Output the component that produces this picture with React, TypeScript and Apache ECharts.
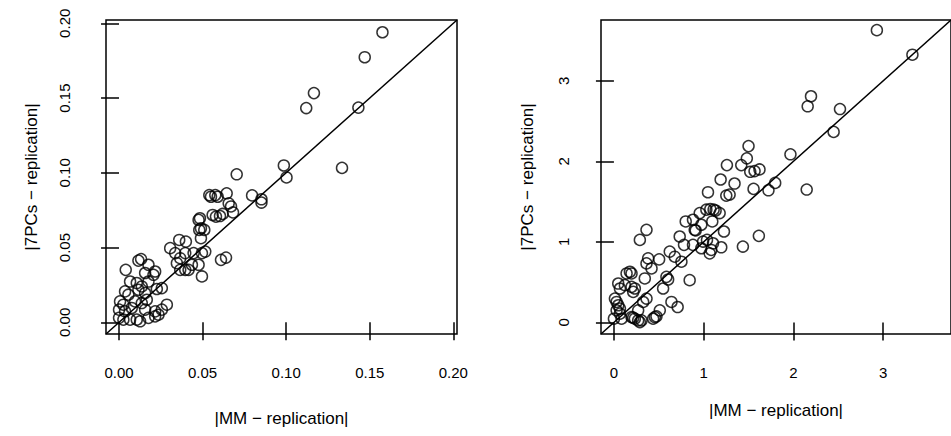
import React, { useEffect, useRef } from "react";
import * as echarts from "echarts";

const leftMM = [0.1576,0.147,0.1166,0.112,0.1432,0.0986,0.1334,0.0704,0.1002,0.0796,0.0852,0.0852,0.0644,0.054,0.055,0.0576,0.059,0.0656,0.067,0.0682,0.056,0.058,0.0604,0.062,0.0484,0.0476,0.049,0.051,0.048,0.049,0.036,0.04,0.061,0.064,0.0496,0.0306,0.0336,0.0366,0.0396,0.0446,0.0496,0.0516,0.0346,0.0396,0.0436,0.0476,0.0416,0.0366,0.004,0.0116,0.0132,0.0176,0.0156,0.0206,0.0216,0.0066,0.0106,0.0176,0.0136,0.0226,0.0256,0.0036,0.0056,0.0116,0.0156,0.0006,0.0026,0.0096,0.0136,0.0166,0.0,0.0036,0.0076,0.0156,0.0216,0.0286,0.0256,0.0,0.0026,0.0066,0.0106,0.0126,0.0176,0.0216,0.0236];
const left7PC = [0.194,0.1773,0.1533,0.1433,0.1436,0.1049,0.1033,0.099,0.0969,0.0849,0.0823,0.0801,0.0863,0.0851,0.084,0.0851,0.084,0.0796,0.0775,0.0735,0.0718,0.0707,0.0711,0.0725,0.0696,0.0685,0.0629,0.0618,0.0618,0.0563,0.0551,0.054,0.0418,0.0433,0.0307,0.0496,0.0463,0.0429,0.0463,0.0463,0.0463,0.0473,0.0396,0.0351,0.0385,0.0385,0.0351,0.0351,0.0351,0.0413,0.0423,0.0385,0.033,0.0318,0.034,0.0273,0.0263,0.0273,0.024,0.0223,0.0229,0.0207,0.0185,0.0218,0.0196,0.014,0.0118,0.014,0.0129,0.0151,0.0085,0.0073,0.0096,0.0085,0.0073,0.0118,0.0085,0.003,0.0018,0.0018,0.0018,0.0007,0.003,0.004,0.0051];

const rightMM = [2.93,3.326,2.196,2.159,2.519,2.448,1.967,1.5,1.481,1.259,1.419,1.519,1.567,1.622,1.189,1.344,1.048,1.252,1.289,1.556,1.722,1.797,2.148,0.956,1.03,1.074,1.111,1.178,1.096,0.8,0.881,0.911,0.974,0.733,0.781,0.881,0.993,1.037,1.104,0.974,1.067,1.085,1.196,1.226,1.437,1.615,0.752,0.844,0.363,0.289,0.622,0.678,0.504,0.381,0.363,0.419,0.178,0.196,0.141,0.344,0.585,0.604,0.548,0.048,0.067,0.122,0.196,0.215,0.233,0.363,0.326,0.27,0.011,0.03,0.048,0.03,0.067,0.641,0.71,0.511,0.456,0.437,0.474,0.0,0.085,0.215,0.27,0.307,0.289,0.067,0.196,0.233,0.9,1.133];
const right7PC = [3.63,3.325,2.809,2.684,2.65,2.366,2.088,2.19,2.038,1.954,1.954,1.871,1.879,1.9,1.775,1.725,1.617,1.575,1.588,1.658,1.641,1.733,1.65,1.358,1.4,1.408,1.4,1.358,1.254,1.254,1.275,1.142,1.213,1.067,0.963,0.963,1.004,1.025,0.983,0.921,0.858,0.9,0.933,1.129,0.942,1.075,0.754,0.525,1.15,1.025,0.879,0.816,0.783,0.796,0.733,0.671,0.629,0.608,0.608,0.546,0.566,0.533,0.421,0.483,0.421,0.463,0.441,0.379,0.421,0.296,0.254,0.15,0.296,0.254,0.213,0.15,0.171,0.254,0.191,0.15,0.066,0.046,0.075,0.046,0.046,0.059,0.025,0.025,0.004,0.109,0.066,0.046,1.15,1.39];

const leftTicks = [0, 0.05, 0.1, 0.15, 0.2];
const rightTicks = [0, 1, 2, 3];
const leftLim = [-0.0078, 0.2022];
const rightLim = [-0.144, 3.756];

const xTitle = "|MM \u2212 replication|";
const yTitle = "|7PCs \u2212 replication|";

const FONT = "Liberation Sans, Arial, Helvetica, sans-serif";

function valueAxis(gridIndex: number, lim: number[], ticks: number[], fmt: (v: number) => string, name: string, isY: boolean, labelMargin: number, nameGap: number) {
  return {
    type: "value",
    gridIndex,
    min: lim[0],
    max: lim[1],
    name,
    nameLocation: "middle",
    nameGap,
    nameTextStyle: { fontFamily: FONT, fontSize: 17, color: "#000", verticalAlign: "middle" },
    splitLine: { show: false },
    axisLine: { show: false },
    axisTick: { show: true, inside: false, length: 18, customValues: ticks, lineStyle: { color: "#000", width: 1.5 } },
    axisLabel: {
      show: true,
      customValues: ticks,
      formatter: (v: number) => fmt(v),
      margin: labelMargin,
      rotate: isY ? 90 : 0,
      fontFamily: FONT,
      fontSize: 15,
      color: "#000",
    },
  };
}

export default function App() {
  const ref = useRef<HTMLDivElement>(null);
  useEffect(() => {
    if (!ref.current) return;
    const chart = echarts.init(ref.current, undefined, { renderer: "svg" });
    const leftPts = leftMM.map((x, i) => [x, left7PC[i]]);
    const rightPts = rightMM.map((x, i) => [x, right7PC[i]]);
    const f2 = (v: number) => v.toFixed(2);
    const f0 = (v: number) => String(Math.round(v));
    const pointStyle = { color: "rgba(0,0,0,0)", borderColor: "#000", borderWidth: 1.5 };
    chart.setOption({
      animation: false,
      backgroundColor: "#fff",
      grid: [
        { left: 106, top: 20, width: 351, height: 314, show: true, borderColor: "#000", borderWidth: 1.5, backgroundColor: "rgba(0,0,0,0)" },
        { left: 601, top: 20, width: 351, height: 314, show: true, borderColor: "#000", borderWidth: 1.5, backgroundColor: "rgba(0,0,0,0)" },
      ],
      xAxis: [
        valueAxis(0, leftLim, leftTicks, f2, xTitle, false, 31, 84),
        valueAxis(1, rightLim, rightTicks, f0, xTitle, false, 31, 76),
      ],
      yAxis: [
        valueAxis(0, leftLim, leftTicks, f2, yTitle, true, 34, 75),
        valueAxis(1, rightLim, rightTicks, f0, yTitle, true, 30, 74),
      ],
      series: [
        {
          type: "line", xAxisIndex: 0, yAxisIndex: 0, symbol: "none",
          data: [[leftLim[0], leftLim[0]], [leftLim[1], leftLim[1]]],
          lineStyle: { color: "#000", width: 1.5 },
        },
        {
          type: "line", xAxisIndex: 1, yAxisIndex: 1, symbol: "none",
          data: [[rightLim[0], rightLim[0]], [rightLim[1], rightLim[1]]],
          lineStyle: { color: "#000", width: 1.5 },
        },
        {
          type: "scatter", xAxisIndex: 0, yAxisIndex: 0, symbol: "circle", symbolSize: 11,
          data: leftPts, itemStyle: pointStyle,
        },
        {
          type: "scatter", xAxisIndex: 1, yAxisIndex: 1, symbol: "circle", symbolSize: 11,
          data: rightPts, itemStyle: pointStyle,
        },
      ],
    });
    return () => chart.dispose();
  }, []);
  return <div ref={ref} style={{ position: "fixed", left: 0, top: 0, width: 951, height: 436 }} />;
}
